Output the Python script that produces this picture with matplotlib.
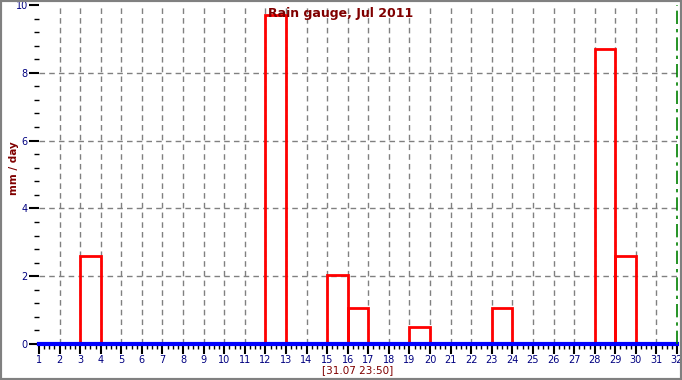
import matplotlib.pyplot as plt
from matplotlib.ticker import MultipleLocator
from matplotlib.patches import Rectangle

# daily rainfall, July 2011 (only rainy days listed)
days = [3, 12, 15, 16, 19, 23, 28, 29]
rain = [2.6, 9.7, 2.05, 1.05, 0.5, 1.05, 8.7, 2.6]
x_ticks = list(range(1, 33))
y_ticks = [0, 2, 4, 6, 8, 10]

dark_red = '#800000'
navy = '#000080'

fig = plt.figure(figsize=(6.82, 3.80), dpi=100)
ax = fig.add_axes([39 / 682, 1 - 344 / 380, 638 / 682, 339 / 380])

ax.bar(days, rain, width=1, align='edge', fill=False, edgecolor='red',
       linewidth=2, zorder=3)

# zero line and "now" marker
ax.axhline(0, color='blue', linewidth=3, zorder=4, clip_on=False)
ax.axvline(32, color='green', linestyle=(0, (8, 3, 2, 3)), linewidth=1.2,
           zorder=4, clip_on=False)

ax.set_xlim(1, 32)
ax.set_ylim(0, 10)
ax.set_xticks(x_ticks)
ax.set_yticks(y_ticks)
ax.xaxis.set_minor_locator(MultipleLocator(0.25))
ax.yaxis.set_minor_locator(MultipleLocator(0.4))

ax.tick_params(axis='both', which='major', labelsize=7, labelcolor=navy,
               color='black', length=7, width=1.5, pad=1, direction='out')
ax.tick_params(axis='both', which='minor', length=3.5, width=1, color='black')

ax.grid(True, which='major', linestyle=(0, (4, 3)), color='gray', linewidth=1)
# no grid lines on the plot edges
for gl in (ax.xaxis.get_gridlines()[0], ax.xaxis.get_gridlines()[-1],
           ax.yaxis.get_gridlines()[0], ax.yaxis.get_gridlines()[-1]):
    gl.set_visible(False)
for s in ax.spines.values():
    s.set_visible(False)

fig.text(0.5, 1 - 14 / 380, 'Rain gauge, Jul 2011', ha='center', va='center',
         color=dark_red, fontsize=9, fontweight='bold')
fig.text(14 / 682, 1 - 168 / 380, 'mm / day', rotation=90, ha='center',
         va='center', color=dark_red, fontsize=7.5, fontweight='bold')
fig.text(358 / 682, 1 - 370 / 380, '[31.07 23:50]', ha='center', va='center',
         color=dark_red, fontsize=7.5)

# gray frame around the whole picture
fig.patches.append(Rectangle((0, 0), 1, 1, transform=fig.transFigure,
                             fill=False, edgecolor='gray', linewidth=3))

fig.savefig('out.png', dpi=100)
